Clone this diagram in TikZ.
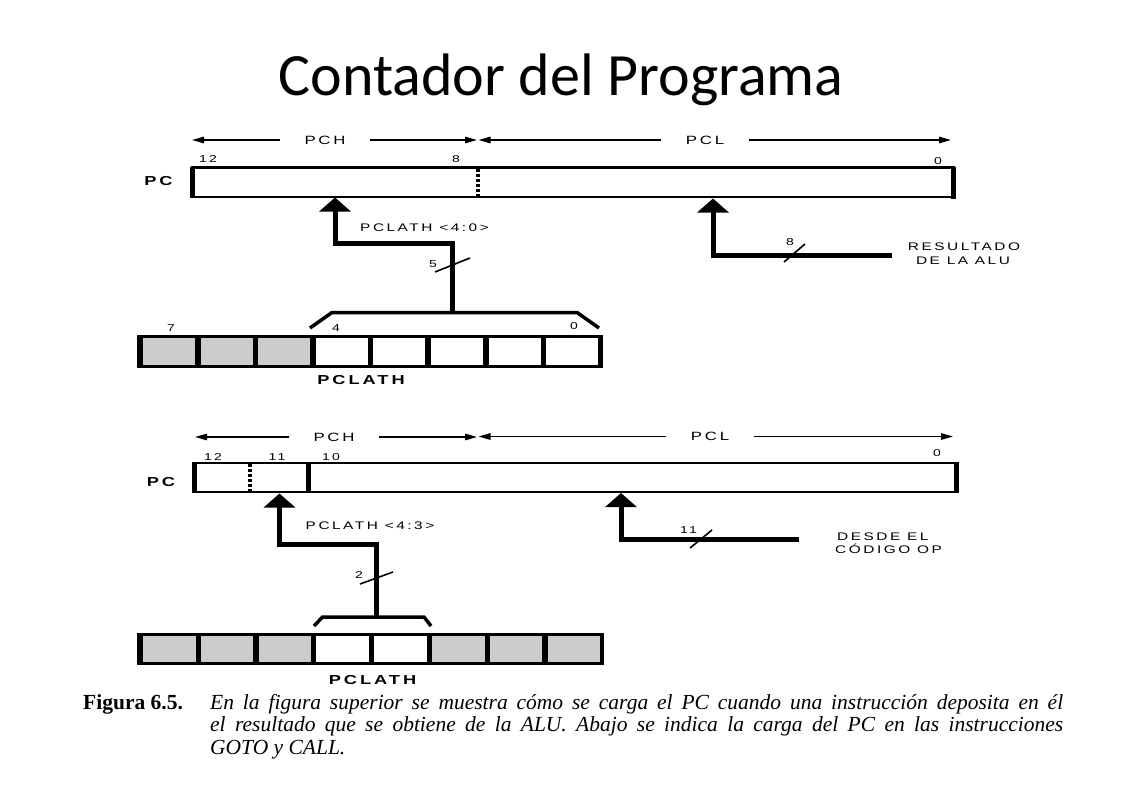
\documentclass[tikz,border=0pt]{standalone}
\usepackage{fontspec}
\setmainfont{Liberation Serif}
\newfontfamily\titlefont{Carlito}
\newfontfamily\lblfont[FakeStretch=1.4,LetterSpace=23]{Liberation Sans}
\usetikzlibrary{arrows.meta}
\begin{document}
\begin{tikzpicture}[x=1pt,y=-1pt,
  lbl/.style={font=\lblfont\fontsize{11}{13}\selectfont, inner sep=0pt},
  hdr/.style={font=\lblfont\fontsize{12}{14}\selectfont, inner ysep=0pt, inner xsep=24pt},
  num/.style={font=\lblfont\fontsize{10}{12}\selectfont, inner sep=0pt},
  boldlbl/.style={font=\lblfont\bfseries\fontsize{13}{15}\selectfont, inner sep=0pt},
  dimline/.style={line width=1.4pt, -{Triangle[length=12pt,width=6.5pt]}},
  bus/.style={line width=5pt, line join=miter, -{Triangle[length=14pt,width=31pt]}},
  bracketline/.style={line width=3.5pt, line join=miter},
  slashmark/.style={line width=1.6pt},
  pcframe/.style={line width=2.5pt},
  pcside/.style={line width=5pt},
  cellwhite/.style={fill=white},
  cellgray/.style={fill=black!20},
  capline/.style={anchor=base west, inner sep=0pt, font=\fontsize{21.5}{25}\selectfont\itshape},
]
\useasboundingbox (0,0) rectangle (1122,793);
\fill[white] (0,0) rectangle (1122,793);

% Title
\node[font=\titlefont\fontsize{60}{72}\selectfont, anchor=base, inner sep=0pt] (title) at (561,95) {Contador del Programa};

% ================= TOP DIAGRAM =================
\node[hdr] (pchA) at (325,140) {PCH};
\node[hdr, inner xsep=25pt] (pclA) at (705,140) {PCL};
\coordinate (pchAl) at (192,140);
\coordinate (pchAr) at (477,140);
\coordinate (pclAl) at (478.5,140);
\coordinate (pclAr) at (951,140);
\draw[dimline] (pchA.west) -- (pchAl);
\draw[dimline] (pchA.east) -- (pchAr);
\draw[dimline] (pclA.west) -- (pclAl);
\draw[dimline] (pclA.east) -- (pclAr);

% PC register
\draw[pcframe] (192,167.5) rectangle (954,197);
\draw[pcside] (192.5,166.5) -- (192.5,198);
\draw[pcside] (953,166.5) -- (953,198.5);
\draw[line width=4pt, dash pattern=on 3pt off 2pt] (478,168.5) -- (478,196);
\node[num] (a12) at (208,159) {12};
\node[num] (a8) at (456,159) {8};
\node[num] (a0) at (938,161.5) {0};
\node[boldlbl] (pcA) at (158.5,181.5) {PC};

% PCLATH register
\fill[black] (137,335) rectangle (603,367.5);
\foreach \i/\c in {0/cellgray,1/cellgray,2/cellgray,3/cellwhite,4/cellwhite,5/cellwhite,6/cellwhite,7/cellwhite}
  \path[\c] ({143+57.6*\i},338) rectangle ({195+57.6*\i},364.5);
\node[num] (r7A) at (171,328) {7};
\node[num] (r4A) at (336,328) {4};
\node[num] (r0A) at (574,326) {0};
\node[boldlbl] (platA) at (361,380) {PCLATH};

% bracket and bus to PC
\draw[bracketline] (310,328) -- (332,312.5) -- (577,312.5) -- (599,328);
\coordinate (srcA) at (452.5,312.5);
\coordinate (tipA) at (335,197.5);
\draw[bus] (srcA) -- ++(0,-69) -| (tipA);
\node[lbl] (latA) at (424.5,227.5) {PCLATH <4:0>};
\draw[slashmark] (435,272) -- (470,258);
\node[num] (n5) at (433,264) {5};

% ALU bus
\coordinate (aluA) at (892,255.5);
\coordinate (tipB) at (713,198.5);
\draw[bus] (aluA) -| (tipB);
\draw[slashmark] (784,262) -- (805,244);
\node[num] (n8) at (790,242.5) {8};
\node[lbl] (resA) at (964,247) {RESULTADO};
\node[lbl] (resB) at (963,261) {DE LA ALU};

% ================= BOTTOM DIAGRAM =================
\node[hdr] (pchB) at (334,437) {PCH};
\node[hdr, inner xsep=25pt] (pclB) at (710,436.5) {PCL};
\coordinate (pchBl) at (195,437);
\coordinate (pchBr) at (477,437);
\coordinate (pclBl) at (478.5,436.5);
\coordinate (pclBr) at (953,436.5);
\draw[dimline] (pchB.west) -- (pchBl);
\draw[dimline] (pchB.east) -- (pchBr);
\draw[dimline] (pclB.west) -- (pclBl);
\draw[dimline] (pclB.east) -- (pclBr);

% PC register
\draw[pcframe] (194,463) rectangle (957,492);
\draw[pcside] (194,462) -- (194,493);
\draw[pcside] (956,462) -- (956,493);
\draw[line width=4pt, dash pattern=on 3pt off 2pt] (250,464) -- (250,491);
\draw[pcside] (308.5,463) -- (308.5,492);
\node[num] (b12) at (213,457) {12};
\node[num] (b11) at (277,457) {11};
\node[num] (b10) at (331,457) {10};
\node[num] (b0) at (937,453.5) {0};
\node[boldlbl] (pcB) at (161,482.5) {PC};

% PCLATH register
\fill[black] (137,632.5) rectangle (604,665);
\foreach \i/\c in {0/cellgray,1/cellgray,2/cellgray,3/cellwhite,4/cellwhite,5/cellgray,6/cellgray,7/cellgray}
  \path[\c] ({143+57.8*\i},636) rectangle ({195.5+57.8*\i},662);
\node[boldlbl] (platB) at (372.5,680) {PCLATH};

% bracket and bus
\draw[bracketline] (314,626) -- (322.5,617) -- (424,617) -- (431,626);
\coordinate (srcC) at (376.5,617);
\coordinate (tipC) at (279.5,493.5);
\draw[bus] (srcC) -- ++(0,-73) -| (tipC);
\node[lbl] (latB) at (370,526) {PCLATH <4:3>};
\draw[slashmark] (360,584) -- (393,572);
\node[num] (n2) at (359,575) {2};

% opcode bus
\coordinate (opB) at (799,539);
\coordinate (tipD) at (621,493);
\draw[bus] (opB) -| (tipD);
\draw[slashmark] (690,548) -- (712,530);
\node[num] (n11) at (688.5,530) {11};
\node[lbl, anchor=west] (desA) at (837,537) {DESDE EL};
\node[lbl, anchor=west] (desB) at (835,548.5) {CÓDIGO OP};

% ================= CAPTION =================
\node[anchor=base west, inner sep=0pt, font=\fontsize{21.5}{25}\selectfont\bfseries] (figlbl) at (83,709) {Figura 6.5.};
\node[capline] (capA) at (210,709) {\makebox[853pt][s]{En la figura superior se muestra cómo se carga el PC cuando una instrucción deposita en él}};
\node[capline] (capB) at (210,731.5) {\makebox[853pt][s]{el resultado que se obtiene de la ALU. Abajo se indica la carga del PC en las instrucciones}};
\node[capline] (capC) at (210,754) {GOTO y CALL.};
\end{tikzpicture}
\end{document}
